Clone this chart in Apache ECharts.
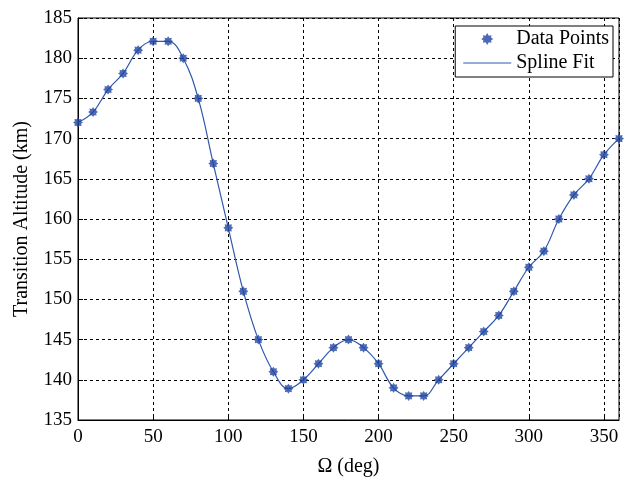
<!DOCTYPE html>
<html>
<head>
<meta charset="utf-8">
<script src="https://cdn.jsdelivr.net/npm/echarts@6/dist/echarts.min.js"></script>
<style>html,body{margin:0;padding:0;background:#fff;}#c{width:627px;height:484px;}</style>
</head>
<body>
<div id="c"></div>
<script>
const omega = [0,10,20,30,40,50,60,70,80,90,100,110,120,130,140,150,160,170,180,190,200,210,220,230,240,250,260,270,280,290,300,310,320,330,340,350,360];
const altitude = [172,173.3,176.1,178.1,181,182.1,182.1,180,175,166.9,158.9,151,145,141,138.9,140,142,144,145,144,142,139,138,138,140,142,144,146,148,151,154,156,160,163,165,168,170];
const xTicks = {min:0, max:360, interval:50};
const yTicks = {min:135, max:185, interval:5};
const seriesNames = ['Data Points','Spline Fit'];

const pts = omega.map((x,i)=>[x, altitude[i]]);
const font = '"Liberation Serif", "Times New Roman", serif';
const starPath = 'path://M0,-10 L2.6,-6.3 L7.1,-7.1 L6.3,-2.6 L10,0 L6.3,2.6 L7.1,7.1 L2.6,6.3 L0,10 L-2.6,6.3 L-7.1,7.1 L-6.3,2.6 L-10,0 L-6.3,-2.6 L-7.1,-7.1 L-2.6,-6.3 Z';
const legendStar = 'path://M0,0 L0.01,0 L0.01,0.01 Z M24,1 L25.6,3.8 L28.3,3.2 L27.8,5.4 L30,7 L27.8,8.6 L28.3,10.8 L25.6,10.2 L24,13 L22.4,10.2 L19.7,10.8 L20.2,8.6 L18,7 L20.2,5.4 L19.7,3.2 L22.4,3.8 Z M47.99,13.99 L48,13.99 L48,14 Z';
const legendLine = 'path://M0,0 L0.01,0 L0.01,0.01 Z M0,6.5 L48,6.5 L48,7.5 L0,7.5 Z M47.99,13.99 L48,13.99 L48,14 Z';

const chart = echarts.init(document.getElementById('c'), null, {renderer:'canvas'});
chart.setOption({
  animation:false,
  backgroundColor:'#fff',
  textStyle:{fontFamily:font},
  grid:{left:78, right:8, top:18, bottom:64, show:true, borderColor:'#000', borderWidth:1, backgroundColor:'transparent'},
  legend:{
    orient:'vertical', right:14, top:26,
    backgroundColor:'#fff', borderColor:'#000', borderWidth:1,
    padding:[3,4,4,8], itemGap:4, itemWidth:48, itemHeight:14,
    textStyle:{fontFamily:font, fontSize:20, color:'#000'},
    data:[{name:seriesNames[0], icon:legendStar, itemStyle:{color:'#1f45a0'}},
          {name:seriesNames[1], icon:legendLine, itemStyle:{color:'#2f58b0'}}]
  },
  xAxis:{
    type:'value', min:xTicks.min, max:xTicks.max, interval:xTicks.interval,
    name:'Ω (deg)', nameLocation:'middle', nameGap:37,
    nameTextStyle:{fontFamily:font, fontSize:20, color:'#000'},
    axisLine:{show:true, onZero:false, lineStyle:{color:'#000'}},
    axisTick:{show:true, inside:true, length:5, lineStyle:{color:'#000'}},
    axisLabel:{fontFamily:font, fontSize:19, color:'#000', margin:8, showMaxLabel:false},
    splitLine:{show:true, lineStyle:{color:'#000', type:[3,3], width:1}}
  },
  yAxis:{
    type:'value', min:yTicks.min, max:yTicks.max, interval:yTicks.interval,
    name:'Transition Altitude (km)', nameLocation:'middle', nameGap:46,
    nameTextStyle:{fontFamily:font, fontSize:20, color:'#000'},
    axisLine:{show:true, lineStyle:{color:'#000'}},
    axisTick:{show:true, inside:true, length:5, lineStyle:{color:'#000'}},
    axisLabel:{fontFamily:font, fontSize:19, color:'#000', margin:6},
    splitLine:{show:true, lineStyle:{color:'#000', type:[3,3], width:1}}
  },
  series:[
    {name:seriesNames[1], type:'line', data:pts, smooth:0.4, showSymbol:false, symbol:'none',
     lineStyle:{color:'#2f58b0', width:1.2}, itemStyle:{color:'#2f58b0'}, z:2},
    {name:seriesNames[0], type:'scatter', data:pts, symbol:starPath, symbolSize:10,
     itemStyle:{color:'#1f45a0'}, z:3}
  ]
});
</script>
</body>
</html>
